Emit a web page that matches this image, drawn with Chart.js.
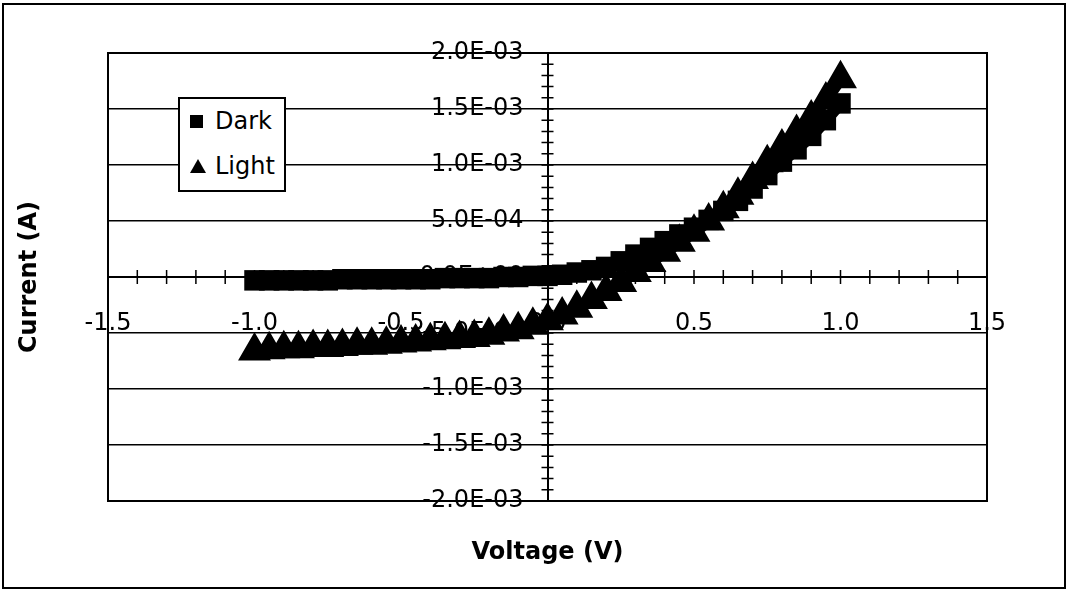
<!DOCTYPE html>
<html lang="en">
<head>
  <meta charset="UTF-8">
  <title>Dark / Light I-V</title>
  <script src="https://cdn.jsdelivr.net/npm/chart.js"></script>
  <style>
    body {
      margin: 0;
      background: #fff;
    }
    #wrap {
      position: relative;
      width: 1068px;
      height: 590px;
    }
    #legend {
      position: absolute;
      left: 178px;
      top: 97px;
      width: 104px;
      height: 91px;
      border: 2px solid #000;
      background: #fff;
      font-family: 'DejaVu Sans', sans-serif;
      font-size: 24px;
      color: #000;
    }
    .item {
      position: absolute;
      left: 10px;
      height: 28px;
      display: flex;
      align-items: center;
    }
    .mark {
      display: inline-block;
      margin-right: 9px;
    }
    .rect { width: 13px; height: 13px; background: #000; margin-right: 12px; }
    .tri {
      width: 0; height: 0;
      border-left: 8px solid transparent;
      border-right: 8px solid transparent;
      border-bottom: 14px solid #000;
    }
  </style>
</head>
<body>
<div id="wrap">
  <canvas id="ivChart"></canvas>
  <div id="legend"></div>
</div>

<script>
  // sweep voltage (V)
  const voltage = [
    -1.00, -0.95, -0.90, -0.85, -0.80, -0.75, -0.70, -0.65, -0.60, -0.55,
    -0.50, -0.45, -0.40, -0.35, -0.30, -0.25, -0.20, -0.15, -0.10, -0.05,
     0.00,  0.05,  0.10,  0.15,  0.20,  0.25,  0.30,  0.35,  0.40,  0.45,
     0.50,  0.55,  0.60,  0.65,  0.70,  0.75,  0.80,  0.85,  0.90,  0.95,
     1.00
  ];
  // currents, in mA
  const darkCurrent = [
    -0.03, -0.03, -0.03, -0.03, -0.03, -0.03, -0.02, -0.02, -0.02, -0.02,
    -0.02, -0.02, -0.02, -0.01, -0.01, -0.01, -0.01,  0.00,  0.00,  0.01,
     0.01,  0.02,  0.04,  0.06,  0.09,  0.14,  0.20,  0.26,  0.32,  0.38,
     0.44,  0.51,  0.59,  0.68,  0.79,  0.91,  1.03,  1.14,  1.26,  1.40,
     1.55
  ];
  const lightCurrent = [
    -0.66, -0.65, -0.64, -0.64, -0.63, -0.63, -0.62, -0.61, -0.61, -0.60,
    -0.59, -0.58, -0.57, -0.56, -0.55, -0.54, -0.52, -0.49, -0.47, -0.43,
    -0.39, -0.34, -0.28, -0.20, -0.13, -0.05,  0.04,  0.13,  0.22,  0.31,
     0.40,  0.50,  0.61,  0.73,  0.87,  1.02,  1.16,  1.29,  1.42,  1.58,
     1.77
  ];
  const seriesNames = ['Dark', 'Light'];
  const seriesMarks = ['rect', 'triangle'];

  // labelled ticks
  const xTickLabels = [-1.5, -1.0, -0.5, 0.0, 0.5, 1.0, 1.5];
  const yTickLabels = [-2.0e-3, -1.5e-3, -1.0e-3, -5.0e-4, 0, 5.0e-4, 1.0e-3, 1.5e-3, 2.0e-3];

  const FONT = "'DejaVu Sans', sans-serif";

  function isLabelled(list, v, eps) {
    return list.some(t => Math.abs(t - v) < eps);
  }

  // Excel style 0.0E+00
  function sci(v) {
    if (Math.abs(v) < 1e-12) return '0.0E+00';
    let exp = Math.floor(Math.log10(Math.abs(v)));
    let mant = v / Math.pow(10, exp);
    if (Math.abs(mant) >= 9.95) { mant /= 10; exp += 1; }
    const sign = exp < 0 ? '-' : '+';
    return mant.toFixed(1) + 'E' + sign + String(Math.abs(exp)).padStart(2, '0');
  }

  function points(values) {
    return voltage.map((v, i) => ({ x: v, y: values[i] * 1e-3 }));
  }

  // legend built from the series names
  const legendBox = document.getElementById('legend');
  seriesNames.forEach((name, i) => {
    const row = document.createElement('div');
    row.className = 'item';
    row.style.top = (8 + i * 45) + 'px';
    const mark = document.createElement('span');
    mark.className = 'mark ' + (seriesMarks[i] === 'rect' ? 'rect' : 'tri');
    row.appendChild(mark);
    row.appendChild(document.createTextNode(name));
    legendBox.appendChild(row);
  });

  // frame, crossing tick marks and axis titles
  const decor = {
    id: 'decor',
    afterDraw(chart) {
      const { ctx, chartArea: a, scales } = chart;
      const xs = scales.x, ys = scales.y;
      const x0 = xs.getPixelForValue(0);
      const y0 = ys.getPixelForValue(0);
      ctx.save();
      ctx.strokeStyle = '#000';

      ctx.lineWidth = 2;
      ctx.strokeRect(a.left, a.top, a.right - a.left, a.bottom - a.top);
      ctx.strokeRect(3, 4, chart.width - 6, chart.height - 6);

      ctx.lineWidth = 1.5;
      ctx.beginPath();
      xs.ticks.forEach(t => {
        const px = xs.getPixelForValue(t.value);
        ctx.moveTo(px, y0 - 7);
        ctx.lineTo(px, y0 + 7);
      });
      ys.ticks.forEach(t => {
        const py = ys.getPixelForValue(t.value);
        ctx.moveTo(x0 - 6, py);
        ctx.lineTo(x0 + 6, py);
      });
      ctx.stroke();

      ctx.fillStyle = '#000';
      ctx.font = 'bold 24px ' + FONT;
      ctx.textAlign = 'center';
      ctx.textBaseline = 'middle';
      ctx.fillText('Voltage (V)', (a.left + a.right) / 2, a.bottom + 52);
      ctx.translate(a.left - 78, (a.top + a.bottom) / 2);
      ctx.rotate(-Math.PI / 2);
      ctx.fillText('Current (A)', 0, 0);
      ctx.restore();
    }
  };

  new Chart(document.getElementById('ivChart'), {
    type: 'scatter',
    data: {
      datasets: [
        {
          label: seriesNames[0],
          data: points(darkCurrent),
          showLine: true,
          borderColor: '#000',
          borderWidth: 12,
          backgroundColor: '#000',
          pointStyle: seriesMarks[0],
          pointRadius: 6,
          pointBorderColor: '#000',
          pointBackgroundColor: '#000'
        },
        {
          label: seriesNames[1],
          data: points(lightCurrent),
          showLine: true,
          borderColor: '#000',
          borderWidth: 12,
          backgroundColor: '#000',
          pointStyle: seriesMarks[1],
          pointRadius: 7,
          pointBorderColor: '#000',
          pointBackgroundColor: '#000'
        }
      ]
    },
    options: {
      responsive: true,
      maintainAspectRatio: false,
      animation: false,
      layout: { padding: { left: 108, top: 53, right: 81, bottom: 89 } },
      plugins: {
        legend: { display: false },
        tooltip: { enabled: false }
      },
      scales: {
        x: {
          type: 'linear',
          min: -1.5,
          max: 1.5,
          position: { y: 0 },
          grid: { display: false, drawTicks: false },
          border: { display: true, color: '#000', width: 2 },
          ticks: {
            stepSize: 0.1,
            autoSkip: false,
            maxRotation: 0,
            padding: 32,
            color: '#000',
            font: { family: FONT, size: 24 },
            callback: v => isLabelled(xTickLabels, v, 1e-6) ? v.toFixed(1) : ''
          }
        },
        y: {
          type: 'linear',
          min: -2e-3,
          max: 2e-3,
          position: { x: 0 },
          grid: {
            drawTicks: false,
            lineWidth: 1.5,
            color: c => isLabelled(yTickLabels, c.tick.value, 1e-8) ? '#000' : 'rgba(0,0,0,0)'
          },
          border: { display: true, color: '#000', width: 2 },
          ticks: {
            stepSize: 1e-4,
            autoSkip: false,
            color: '#000',
            font: { family: FONT, size: 24 },
            // labels sit flush on a centred axis, so pad with an em space
            callback: v => isLabelled(yTickLabels, v, 1e-8) ? sci(v) + '\u2003' : ''
          }
        }
      }
    },
    plugins: [decor]
  });
</script>
</body>
</html>
